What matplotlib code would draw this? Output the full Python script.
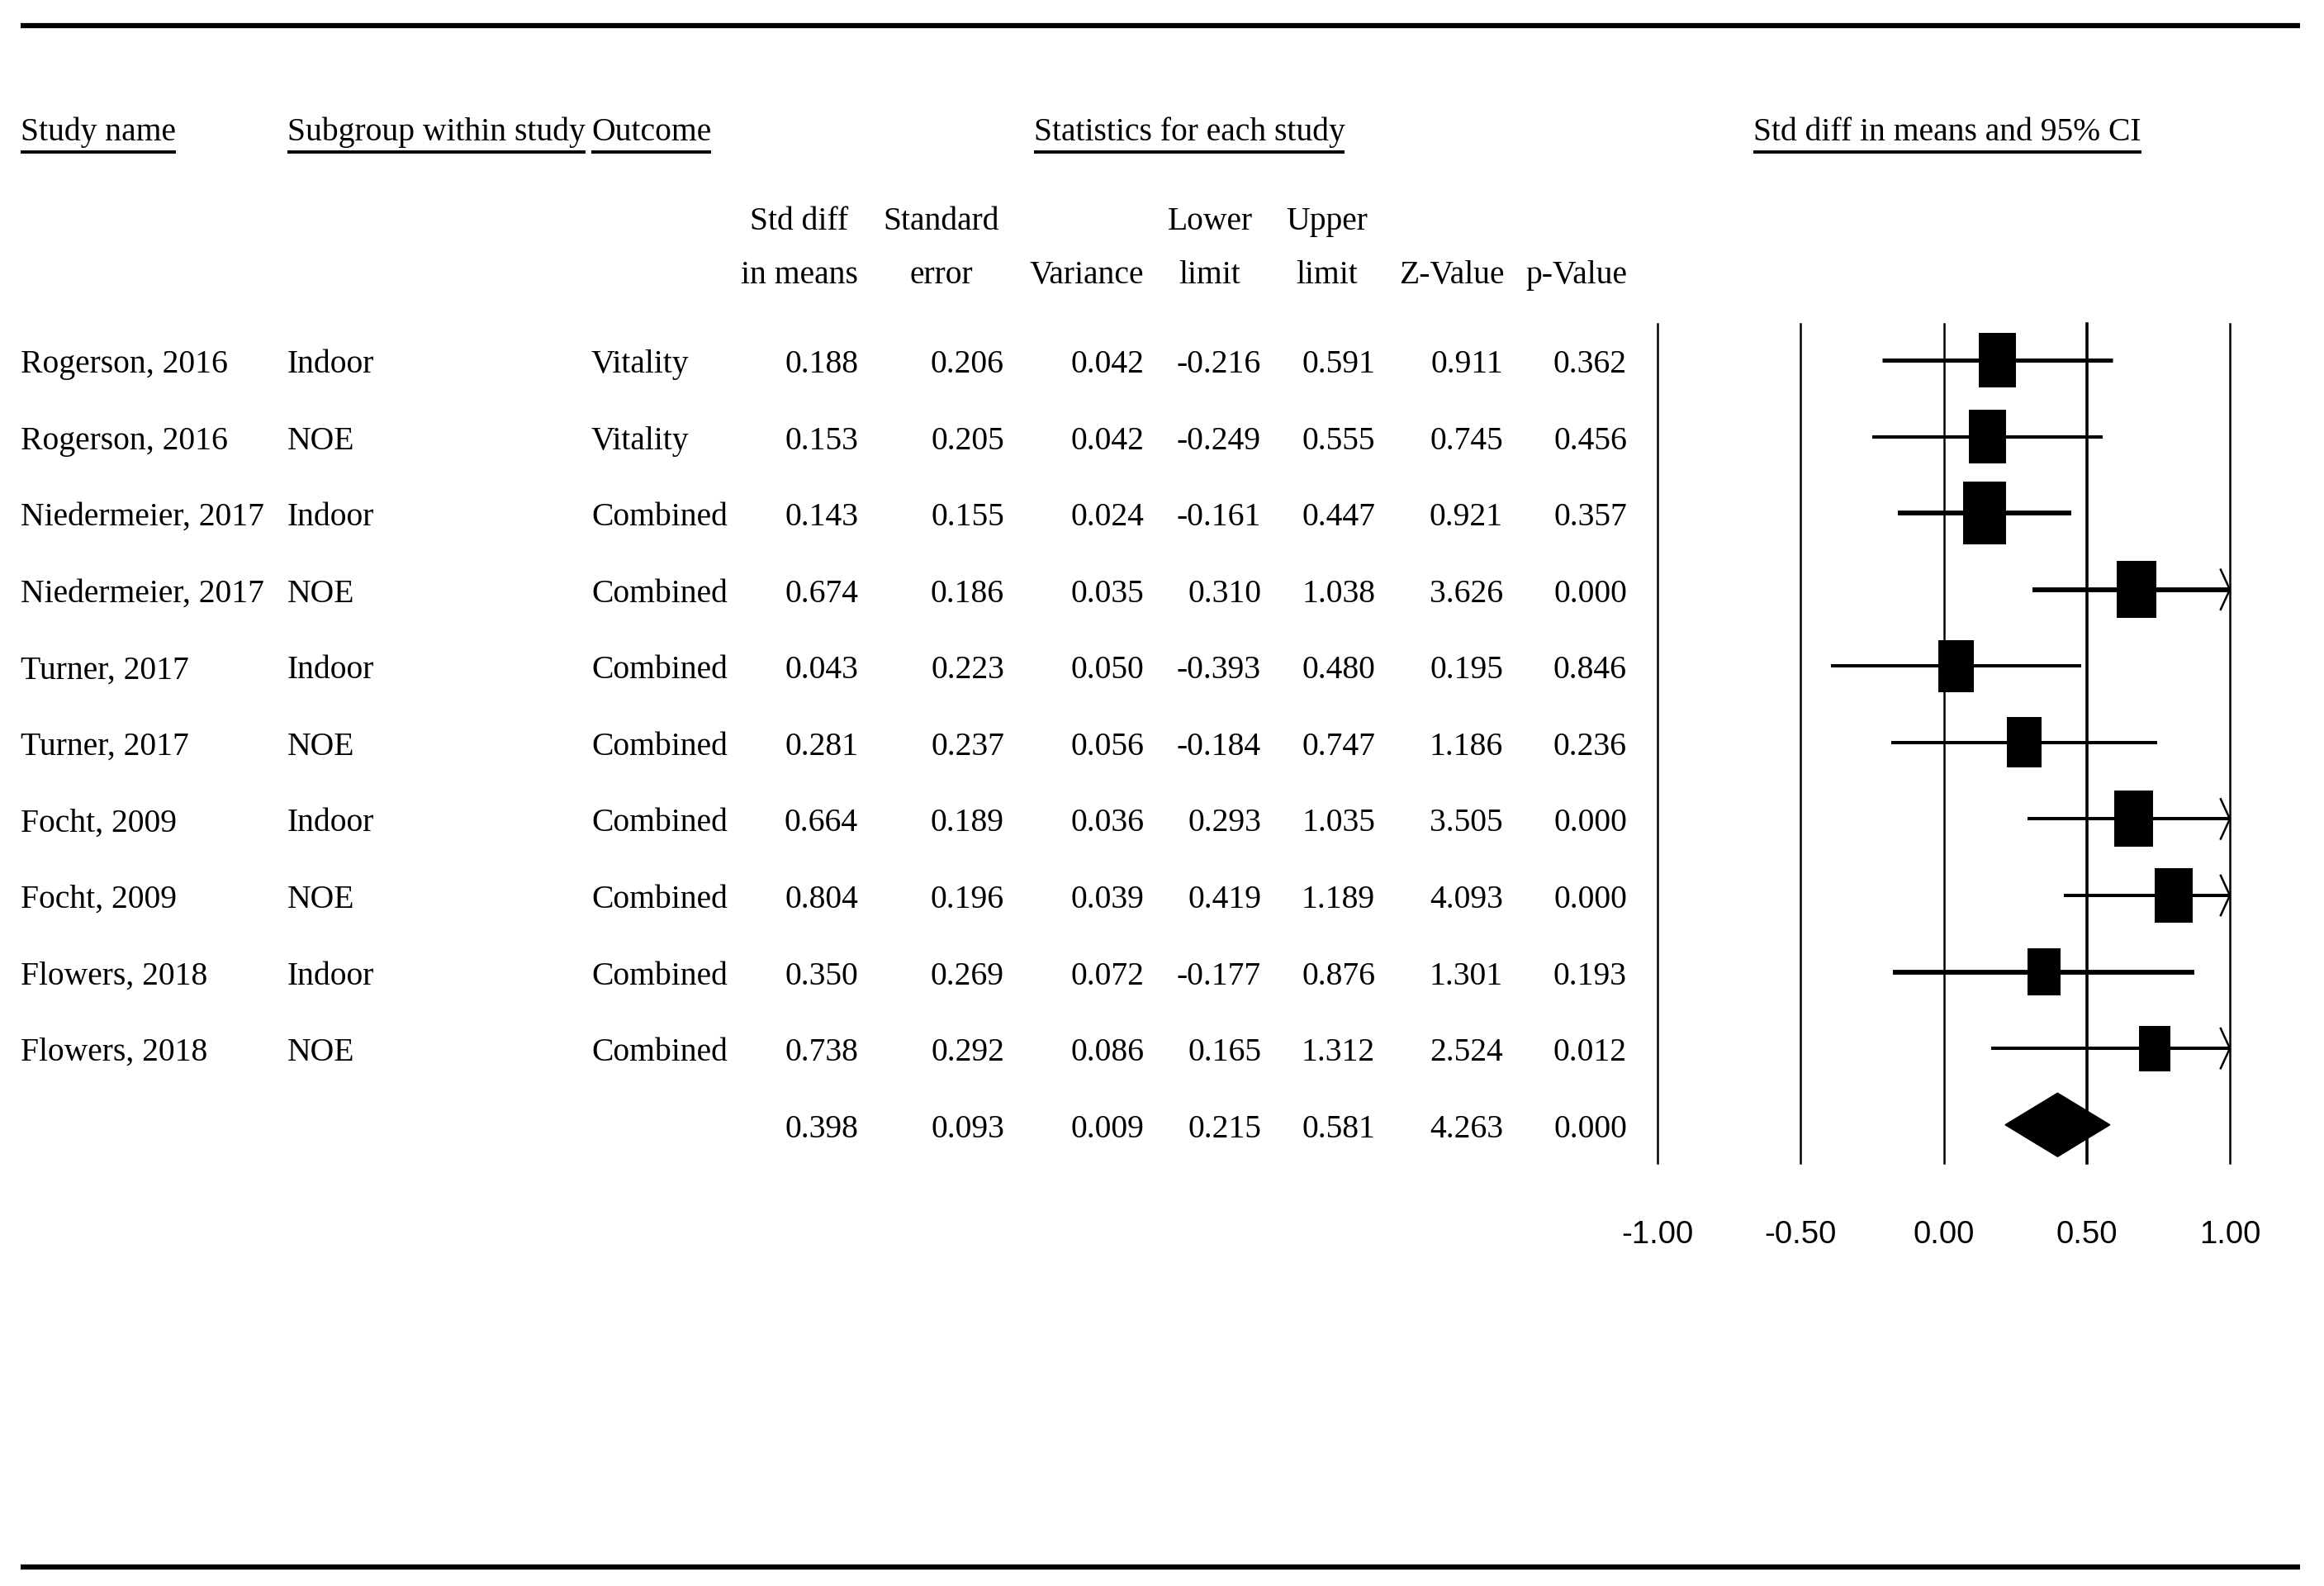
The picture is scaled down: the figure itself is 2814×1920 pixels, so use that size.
import matplotlib
matplotlib.use('Agg')
import matplotlib.pyplot as plt
from matplotlib.patches import Rectangle, Polygon
import numpy as np

plt.rcParams['font.family'] = ['Liberation Serif', 'DejaVu Serif']

# ---- data ----
study = ['Rogerson, 2016', 'Rogerson, 2016', 'Niedermeier, 2017', 'Niedermeier, 2017',
         'Turner, 2017', 'Turner, 2017', 'Focht, 2009', 'Focht, 2009',
         'Flowers, 2018', 'Flowers, 2018']
subgroup = ['Indoor', 'NOE', 'Indoor', 'NOE', 'Indoor', 'NOE', 'Indoor', 'NOE', 'Indoor', 'NOE']
outcome = ['Vitality', 'Vitality', 'Combined', 'Combined', 'Combined', 'Combined',
           'Combined', 'Combined', 'Combined', 'Combined']
smd = [0.188, 0.153, 0.143, 0.674, 0.043, 0.281, 0.664, 0.804, 0.350, 0.738]
se = [0.206, 0.205, 0.155, 0.186, 0.223, 0.237, 0.189, 0.196, 0.269, 0.292]
var = [0.042, 0.042, 0.024, 0.035, 0.050, 0.056, 0.036, 0.039, 0.072, 0.086]
lower = [-0.216, -0.249, -0.161, 0.310, -0.393, -0.184, 0.293, 0.419, -0.177, 0.165]
upper = [0.591, 0.555, 0.447, 1.038, 0.480, 0.747, 1.035, 1.189, 0.876, 1.312]
zval = [0.911, 0.745, 0.921, 3.626, 0.195, 1.186, 3.505, 4.093, 1.301, 2.524]
pval = [0.362, 0.456, 0.357, 0.000, 0.846, 0.236, 0.000, 0.000, 0.193, 0.012]
# pooled
pooled = [0.398, 0.093, 0.009, 0.215, 0.581, 4.263, 0.000]
xticks = [-1.0, -0.5, 0.0, 0.5, 1.0]

W, H = 2814, 1920
FS = 28.5
fig = plt.figure(figsize=(W / 100, H / 100), dpi=100)
bg = fig.add_axes([0, 0, 1, 1])
bg.set_xlim(0, W)
bg.set_ylim(H, 0)
bg.axis('off')

# top / bottom rules
bg.plot([25, 2785], [31, 31], color='black', lw=4.5, solid_capstyle='butt')
bg.plot([25, 2785], [1897, 1897], color='black', lw=4.5, solid_capstyle='butt')

# group headers
heads = []
heads.append(bg.text(25, 170, 'Study name', fontsize=FS, ha='left', va='baseline'))
heads.append(bg.text(348, 170, 'Subgroup within study', fontsize=FS, ha='left', va='baseline'))
heads.append(bg.text(716, 170, 'Outcome', fontsize=FS, ha='left', va='baseline'))
heads.append(bg.text(1440, 170, 'Statistics for each study', fontsize=FS, ha='center', va='baseline'))
heads.append(bg.text(2358, 170, 'Std diff in means and 95% CI', fontsize=FS, ha='center', va='baseline'))

# column headers
col_c = [968, 1140, 1316, 1465, 1607, 1758, 1909]
col_r = [1039, 1216, 1385, 1527, 1665, 1820, 1970]
hdr1 = ['Std diff', 'Standard', '', 'Lower', 'Upper', '', '']
hdr2 = ['in means', 'error', 'Variance', 'limit', 'limit', 'Z-Value', 'p-Value']
for c, a, b in zip(col_c, hdr1, hdr2):
    bg.text(c, 278, a, fontsize=FS, ha='center', va='baseline')
    bg.text(c, 343, b, fontsize=FS, ha='center', va='baseline')

# table rows
row0, step = 436, 92.57
cols = [smd, se, var, lower, upper, zval, pval]
for i in range(len(study)):
    yb = row0 + i * step + 15
    bg.text(25, yb, study[i], fontsize=FS, ha='left', va='baseline')
    bg.text(348, yb, subgroup[i], fontsize=FS, ha='left', va='baseline')
    bg.text(716, yb, outcome[i], fontsize=FS, ha='left', va='baseline')
    for x, col in zip(col_r, cols):
        bg.text(x, yb, '%.3f' % col[i], fontsize=FS, ha='right', va='baseline')
yb = row0 + len(study) * step + 15
for x, v in zip(col_r, pooled):
    bg.text(x, yb, '%.3f' % v, fontsize=FS, ha='right', va='baseline')

# ---- forest panel ----
ax = fig.add_axes([2007 / W, (H - 1408) / H, 693 / W, 1016 / H])
ax.set_xlim(-1, 1)
ax.set_ylim(10.5, -0.475)
for s in ax.spines.values():
    s.set_visible(False)
ax.set_yticks([])
ax.set_xticks(xticks)
ax.set_xticklabels(['%.2f' % t for t in xticks], family='Liberation Sans', fontsize=27.5)
ax.tick_params(axis='x', length=0, pad=50)
for t in xticks:
    ax.axvline(t, color='black', lw=2.6 if t == 0.5 else 1.8, clip_on=False, zorder=1)

ci_lw = [3.6, 2.9, 4.2, 4.2, 2.9, 2.9, 2.9, 2.9, 4.2, 2.9]
w = 1.0 / np.array(var)
bw = 0.15 * (w / w.max()) ** 0.25            # box width in x units
bh = bw * 346.6 * 1.45 / step                 # box height in row units
for i in range(len(study)):
    hi = min(upper[i], 1.0)
    ax.plot([lower[i], hi], [i, i], color='black', lw=ci_lw[i], clip_on=False, zorder=2,
            solid_capstyle='butt')
    if upper[i] > 1.0:
        ax.plot([1 - 0.032, 1, 1 - 0.032], [i - 0.26, i, i + 0.26], color='black', lw=1.8,
                clip_on=False, zorder=2)
    ax.add_patch(Rectangle((smd[i] - bw[i] / 2, i - bh[i] / 2), bw[i], bh[i],
                           facecolor='black', edgecolor='none', zorder=3, clip_on=False))

k = len(study)
est, lo, hi = pooled[0], pooled[3], pooled[4]
ax.add_patch(Polygon([(lo, k), (est, k - 0.416), (hi, k), (est, k + 0.416)], closed=True,
                     facecolor='black', edgecolor='black', zorder=3, clip_on=False))

# underline the group headers
fig.canvas.draw()
r = fig.canvas.get_renderer()
for t in heads:
    bb = t.get_window_extent(r)
    bg.plot([bb.x0, bb.x1], [184, 184], color='black', lw=2.8, solid_capstyle='butt')

fig.savefig('out.png', dpi=100, facecolor='white')
